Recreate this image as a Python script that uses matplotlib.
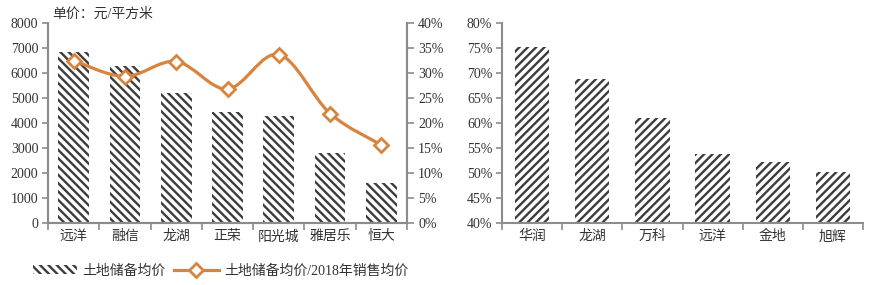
import matplotlib
matplotlib.use("Agg")
import matplotlib.pyplot as plt
import numpy as np
from matplotlib.path import Path
from matplotlib.patches import PathPatch, Patch
from matplotlib.lines import Line2D
from matplotlib.ticker import FuncFormatter

plt.rcParams['font.family'] = ['Liberation Serif', 'Noto Sans CJK SC', 'DejaVu Sans']
plt.rcParams['hatch.linewidth'] = 1.7

# ---- data ----
left_cats = ['远洋', '融信', '龙湖', '正荣', '阳光城', '雅居乐', '恒大']
land_price = [6850, 6300, 5200, 4450, 4300, 2800, 1620]
ratio_pct = [32.5, 29.3, 32.3, 26.8, 33.7, 21.9, 15.6]

right_cats = ['华润', '龙湖', '万科', '远洋', '金地', '旭辉']
right_pct = [75.3, 68.8, 61.0, 53.8, 52.2, 50.2]

unit_label = '单价：元/平方米'
legend_bar = '土地储备均价'
legend_line = '土地储备均价/2018年销售均价'

# ---- style ----
axis_col = '#8c8c8c'
txt_col = '#333333'
hatch_col = '#3c3c3c'
line_col = '#D8843E'
fs = 10
hatch_left = '\\' * 4
hatch_right = '/' * 4

fig = plt.figure(figsize=(8.69, 2.85), dpi=100)
W, H = 869, 285

def ax_rect(x0, x1, y0, y1):
    return [x0 / W, 1 - y1 / H, (x1 - x0) / W, (y1 - y0) / H]

def style_cat_axis(ax, n):
    ax.set_xlim(-0.5, n - 0.5)
    ax.set_xticks(range(n))
    ax.tick_params(axis='x', which='major', length=0, pad=5)
    ax.set_xticks(np.arange(n + 1) - 0.5, minor=True)
    ax.tick_params(axis='x', which='minor', length=5, width=1.2, color=axis_col, direction='out')

# Left chart
ax1 = fig.add_axes(ax_rect(48, 407, 23, 223))
x1 = np.arange(len(left_cats))
ax1.bar(x1, land_price, width=0.6, color='white', edgecolor=hatch_col, hatch=hatch_left, linewidth=0)
style_cat_axis(ax1, len(left_cats))
ax1.set_xticklabels(left_cats, fontsize=fs, color=txt_col)
ax1.set_ylim(0, 8000)
ax1.set_yticks(range(0, 8001, 1000))
ax1.tick_params(axis='y', length=4, width=1.2, color=axis_col, labelsize=fs, labelcolor=txt_col, pad=3)
ax1.spines['top'].set_visible(False)
for s in ['left', 'bottom', 'right']:
    ax1.spines[s].set_color(axis_col)
    ax1.spines[s].set_linewidth(1.5)

ax1r = ax1.twinx()
ax1r.set_ylim(0, 40)
ax1r.set_yticks(range(0, 41, 5))
ax1r.yaxis.set_major_formatter(FuncFormatter(lambda v, p: f'{int(v)}%'))
ax1r.tick_params(axis='y', length=5, width=1.2, color=axis_col, labelsize=fs, labelcolor=txt_col, pad=3)
ax1r.spines['top'].set_visible(False)
for s in ['left', 'bottom', 'right']:
    ax1r.spines[s].set_color(axis_col)
    ax1r.spines[s].set_linewidth(1.5)

# smooth curve through points (Catmull-Rom -> Bezier)
P = np.column_stack([x1, ratio_pct]).astype(float)
verts = [tuple(P[0])]
codes = [Path.MOVETO]
n = len(P)
for i in range(n - 1):
    p0 = P[i - 1] if i > 0 else P[i]
    p1 = P[i]
    p2 = P[i + 1]
    p3 = P[i + 2] if i + 2 < n else P[i + 1]
    c1 = p1 + (p2 - p0) / 6
    c2 = p2 - (p3 - p1) / 6
    verts += [tuple(c1), tuple(c2), tuple(p2)]
    codes += [Path.CURVE4] * 3
ax1r.add_patch(PathPatch(Path(verts, codes), facecolor='none', edgecolor=line_col, lw=2.3, zorder=3))
ax1r.plot(x1, ratio_pct, linestyle='none', marker='D', markersize=7, markerfacecolor='white',
          markeredgecolor=line_col, markeredgewidth=2, zorder=4)

fig.text(52 / W, 1 - 14 / H, unit_label, fontsize=fs, color=txt_col, va='center', ha='left')

# Right chart
ax2 = fig.add_axes(ax_rect(502, 863, 23, 223))
x2 = np.arange(len(right_cats))
ax2.bar(x2, right_pct, width=0.57, color='white', edgecolor=hatch_col, hatch=hatch_right, linewidth=0)
style_cat_axis(ax2, len(right_cats))
ax2.set_xticklabels(right_cats, fontsize=fs, color=txt_col)
ax2.set_ylim(40, 80)
ax2.set_yticks(range(40, 81, 5))
ax2.yaxis.set_major_formatter(FuncFormatter(lambda v, p: f'{int(v)}%'))
ax2.tick_params(axis='y', length=4, width=1.2, color=axis_col, labelsize=fs, labelcolor=txt_col, pad=3)
for s in ['top', 'right']:
    ax2.spines[s].set_visible(False)
for s in ['left', 'bottom']:
    ax2.spines[s].set_color(axis_col)
    ax2.spines[s].set_linewidth(1.5)

# Legend
handles = [Patch(facecolor='white', edgecolor=hatch_col, hatch=hatch_left, linewidth=0),
           Line2D([0], [0], color=line_col, lw=2.3, marker='D', markersize=7,
                  markerfacecolor='white', markeredgecolor=line_col, markeredgewidth=2)]
fig.legend(handles, [legend_bar, legend_line], loc='center left', bbox_to_anchor=(20 / W, 1 - 271 / H),
           ncol=2, frameon=False, fontsize=fs, handlelength=3.2, handletextpad=0.4,
           columnspacing=0.6, labelcolor=txt_col, handleheight=0.6)

fig.savefig('out.png', dpi=100, facecolor='white')
